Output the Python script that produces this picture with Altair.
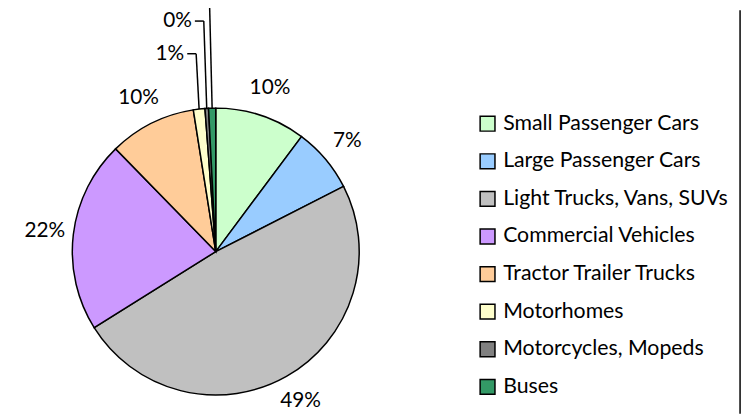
import altair as alt
import pandas as pd

categories = ["Small Passenger Cars", "Large Passenger Cars", "Light Trucks, Vans, SUVs",
              "Commercial Vehicles", "Tractor Trailer Trucks", "Motorhomes",
              "Motorcycles, Mopeds", "Buses"]
shares = [10.2, 7.3, 48.6, 21.6, 9.8, 1.3, 0.4, 0.8]
colors = ["#CCFFCC", "#99CCFF", "#C0C0C0", "#CC99FF", "#FFCC99", "#FFFFCC", "#808080", "#339966"]

df = pd.DataFrame({"category": categories,
                   "share": [s / 100 for s in shares],
                   "idx": list(range(len(categories)))})

CX, CY, R = 210, 244, 145
FONT = "Lato"

base = alt.Chart(df)

color = alt.Color(
    "category:N",
    scale=alt.Scale(domain=categories, range=colors),
    sort=categories,
    legend=alt.Legend(
        title=None, orient="none", legendX=474, legendY=104,
        symbolType="square", symbolSize=225, symbolStrokeColor="black",
        symbolStrokeWidth=1.5, labelFont=FONT, labelFontSize=21.5,
        labelColor="black", rowPadding=15, labelOffset=5, padding=0,
        labelLimit=400,
    ),
)

pie = base.mark_arc(outerRadius=R, stroke="black", strokeWidth=1.5).encode(
    theta=alt.Theta("share:Q", stack=True),
    color=color,
    order=alt.Order("idx:Q"),
    x=alt.value(CX), y=alt.value(CY),
)

big_labels = base.transform_calculate(
    lab="datum.share >= 0.02 ? format(datum.share, '.0%') : ''"
).mark_text(radius=174, font=FONT, fontSize=21, color="black",
            align="center", baseline="middle").encode(
    theta=alt.Theta("share:Q", stack=True),
    order=alt.Order("idx:Q"),
    text="lab:N",
    x=alt.value(CX), y=alt.value(CY),
)

small = base.transform_window(
    cum="sum(share)", sort=[alt.SortField("idx")], frame=[None, 0]
).transform_calculate(
    ang="2*PI*(datum.cum - datum.share/2)"
).transform_filter(
    "datum.share < 0.02"
).transform_window(
    k="row_number()", sort=[alt.SortField("idx")]
).transform_calculate(
    ex=f"{CX} + {R}*sin(datum.ang)",
    ey=f"{CY} - {R}*cos(datum.ang)",
    ly=f"{CY - R} - 55 - 33*(datum.k - 1)",
    bx="datum.ex - 3",
    sx="datum.ex - 12",
    tx="datum.ex - 15",
    lab="format(datum.share, '.0%')",
)

lead_h = small.mark_rule(color="black", strokeWidth=1.5).encode(
    x=alt.X("sx:Q", scale=None), x2="bx:Q",
    y=alt.Y("ly:Q", scale=None), y2="ly:Q",
)
lead_v = small.mark_rule(color="black", strokeWidth=1.5).encode(
    x=alt.X("bx:Q", scale=None), x2="ex:Q",
    y=alt.Y("ly:Q", scale=None), y2="ey:Q",
)
# only the labels that fall inside the visible frame
small_labels = small.transform_filter("datum.ly > 0").mark_text(
    font=FONT, fontSize=21, color="black", align="right", baseline="middle"
).encode(
    x=alt.X("tx:Q", scale=None),
    y=alt.Y("ly:Q", scale=None),
    text="lab:N",
)

border = alt.Chart(pd.DataFrame({"b": [0]})).mark_rule(
    color="black", strokeWidth=1.5
).encode(x=alt.value(740), y=alt.value(0), y2=alt.value(408))

chart = alt.layer(pie, big_labels, lead_h, lead_v, small_labels, border).properties(
    width=746, height=408,
    autosize=alt.AutoSizeParams(type="none"),
    padding=0,
    background="white",
).configure_view(stroke=None)

chart.save("out.html", embed_options={"renderer": "svg", "actions": False})
